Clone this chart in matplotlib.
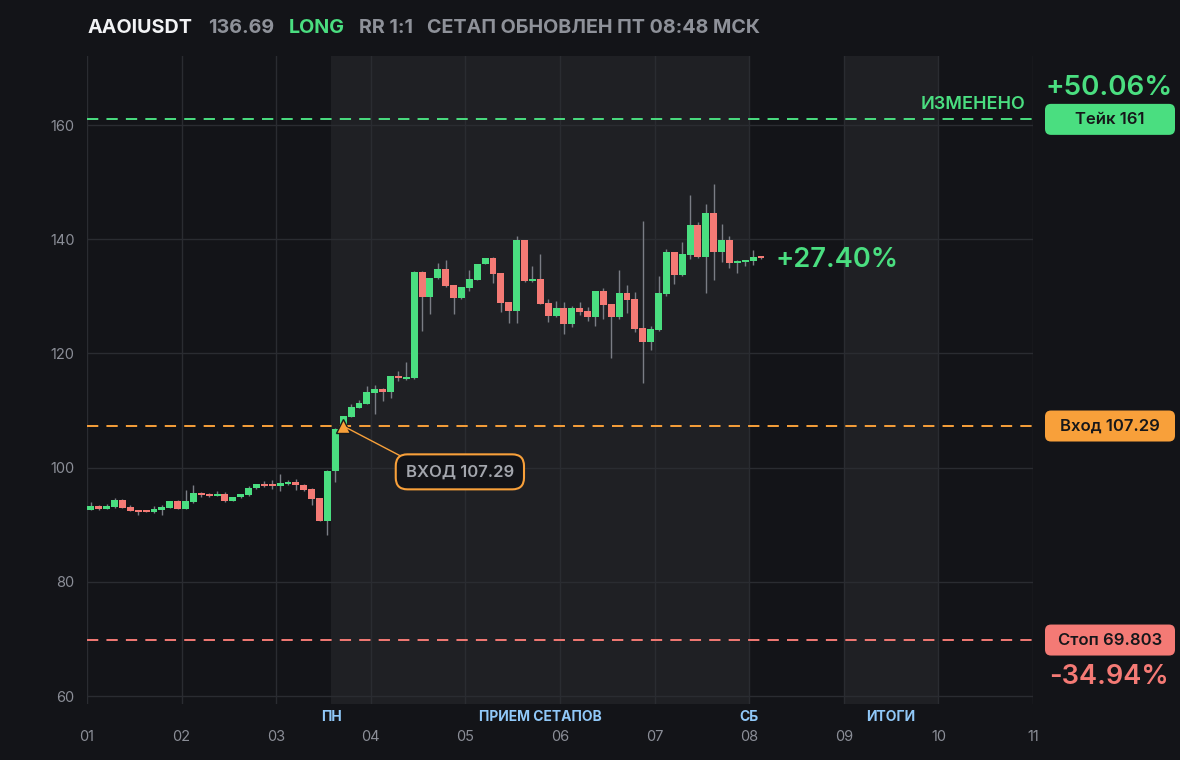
import numpy as np
import pandas as pd
import matplotlib
matplotlib.use("Agg")
import matplotlib.pyplot as plt
import matplotlib.dates as mdates
import matplotlib.transforms as mtransforms
from matplotlib.patches import FancyBboxPatch

plt.rcParams['font.family'] = ['Inter', 'DejaVu Sans']

# ---------------- data ----------------
symbol = "AAOIUSDT"
last_price_txt = "136.69"
side = "LONG"
rr_txt = "RR 1:1"
updated_txt = "СЕТАП ОБНОВЛЕН ПТ 08:48 МСК"

bar_start = "2025-11-01 00:00"   # 2-hour candles
opens = [92.63, 93.27, 92.80, 93.15, 94.33, 93.10, 92.57, 92.50, 92.28, 92.63,
         92.98, 94.15, 92.80, 94.03, 95.55, 95.45, 95.08, 95.38, 94.20, 94.85,
         95.25, 96.43, 97.13, 97.13, 96.78, 97.13, 97.48, 97.00, 96.25, 94.68,
         90.65, 99.40, 107.16, 108.91, 110.49, 111.19, 113.12, 113.77, 113.29, 116.04,
         115.52, 115.69, 134.26, 129.88, 133.20, 134.78, 131.98, 129.70, 131.45, 132.85,
         135.66, 136.71, 134.08, 128.99, 127.43, 139.86, 132.68, 133.03, 128.83, 126.55,
         127.95, 125.15, 127.95, 127.43, 126.37, 130.93, 128.65, 126.37, 130.58, 129.53,
         124.45, 122.00, 124.10, 130.40, 137.76, 133.73, 137.23, 142.49, 136.88, 144.59,
         137.76, 139.86, 135.83, 136.00, 136.18, 136.88]
highs = [93.98, 93.45, 93.63, 94.68, 94.50, 93.45, 92.60, 92.55, 93.27, 93.45,
         94.20, 94.33, 96.08, 96.95, 95.78, 95.60, 95.90, 95.73, 94.90, 95.40,
         96.78, 97.20, 97.65, 97.83, 98.88, 97.83, 98.00, 97.20, 96.43, 94.70,
         99.50, 106.90, 109.10, 111.14, 111.84, 114.29, 114.47, 113.90, 116.10, 117.00,
         118.49, 134.40, 134.40, 133.30, 135.84, 136.36, 132.00, 131.70, 134.60, 135.70,
         136.80, 136.90, 134.10, 129.00, 140.56, 139.90, 135.31, 137.43, 129.53, 129.18,
         129.00, 128.30, 129.00, 128.12, 131.00, 131.45, 128.70, 134.61, 131.98, 130.75,
         143.19, 124.80, 133.55, 138.28, 137.80, 139.51, 147.74, 143.01, 146.16, 149.67,
         142.66, 140.56, 136.30, 136.40, 138.11, 136.90]
lows = [92.50, 92.63, 92.75, 92.98, 92.95, 92.40, 91.75, 92.20, 92.10, 91.75,
        92.90, 92.75, 92.75, 93.85, 94.90, 94.85, 95.00, 94.03, 94.15, 94.70,
        95.08, 96.30, 96.66, 96.25, 95.90, 96.90, 96.10, 95.90, 93.45, 90.60,
        88.20, 97.53, 106.30, 108.80, 110.40, 111.10, 109.44, 111.72, 112.19, 115.17,
        115.40, 115.60, 123.92, 126.90, 133.10, 131.70, 126.90, 129.60, 130.90, 132.80,
        135.60, 132.30, 127.25, 125.32, 125.32, 132.60, 132.60, 128.60, 125.50, 126.40,
        123.40, 124.62, 126.72, 125.67, 124.80, 126.02, 119.19, 126.00, 127.07, 123.75,
        114.82, 120.60, 123.90, 130.05, 132.15, 133.60, 136.53, 136.80, 130.58, 132.85,
        136.00, 134.96, 134.08, 135.31, 135.48, 136.60]
closes = [93.27, 92.80, 93.27, 94.33, 92.98, 92.45, 92.28, 92.28, 92.75, 93.10,
          94.15, 92.80, 94.15, 95.55, 95.25, 95.08, 95.38, 94.20, 94.85, 95.38,
          96.43, 97.13, 96.78, 96.78, 97.30, 97.48, 96.95, 96.08, 94.50, 90.65,
          99.40, 106.76, 109.04, 110.61, 111.31, 113.24, 113.77, 113.29, 116.04, 115.69,
          115.87, 134.26, 129.88, 133.20, 134.78, 131.80, 129.70, 131.63, 133.02, 135.66,
          136.71, 133.90, 128.82, 127.43, 139.86, 132.68, 133.03, 128.65, 126.55, 127.95,
          125.15, 127.95, 127.25, 126.37, 130.93, 128.48, 126.37, 130.58, 129.35, 124.27,
          122.00, 124.27, 130.58, 137.76, 133.73, 137.41, 142.49, 136.88, 144.59, 137.76,
          139.86, 135.83, 136.18, 136.36, 136.88, 136.69]

take_price = 161
entry_price = 107.29
stop_price = 69.803
entry_time = "2025-11-03 17:00"
take_label = "Тейк 161"
entry_label = "Вход 107.29"
stop_label = "Стоп 69.803"
entry_note = "ВХОД 107.29"
take_pct = "+50.06%"
stop_pct = "-34.94%"
current_pct = "+27.40%"
changed_txt = "ИЗМЕНЕНО"

bands = [("2025-11-03 14:00", "2025-11-08 00:00"), ("2025-11-09 00:00", "2025-11-10 00:00")]
band_marks = [("2025-11-03 14:00", "ПН"), ("2025-11-05 19:00", "ПРИЕМ СЕТАПОВ"),
              ("2025-11-08 00:00", "СБ"), ("2025-11-09 12:00", "ИТОГИ")]
day_ticks = pd.date_range("2025-11-01", "2025-11-11", freq="D")
y_ticks = [60, 80, 100, 120, 140, 160]

# ---------------- style ----------------
BG = "#131418"
BAND = "#1f2024"
GRID = "#2a2c31"
GREEN = "#4ade80"
RED = "#f47a75"
ORANGE = "#f8a03a"
WICK = "#7a7d85"
TICK = "#8b8e97"
BLUE = "#90c8f8"
GRAYTXT = "#8e9199"

W, H = 1180, 760
fig = plt.figure(figsize=(W / 100, H / 100), dpi=100, facecolor=BG)
ax = fig.add_axes([87 / W, 56 / H, 946 / W, 648 / H])
ax.set_facecolor(BG)

t = pd.date_range(bar_start, periods=len(opens), freq="2h")
xc = mdates.date2num(t) + 1 / 24
bw = 2 / 24 * 0.88

o = np.array(opens); c = np.array(closes)
cols = [GREEN if cc >= oo else RED for oo, cc in zip(o, c)]
bottoms = np.minimum(o, c)
heights = np.maximum(np.abs(c - o), 0.3)

ax.set_xlim(mdates.date2num(day_ticks[0]), mdates.date2num(day_ticks[-1]))
ax.set_ylim(58.6, 172.1)

for a, b in bands:
    ax.axvspan(mdates.date2num(pd.Timestamp(a)), mdates.date2num(pd.Timestamp(b)),
               color=BAND, lw=0, zorder=0)

ax.set_xticks(mdates.date2num(day_ticks))
ax.set_xticklabels([d.strftime("%d") for d in day_ticks])
ax.set_yticks(y_ticks)
ax.grid(True, color=GRID, lw=1, zorder=1)
ax.set_axisbelow(True)
for s in ax.spines.values():
    s.set_visible(False)
ax.tick_params(length=0, colors=TICK, labelsize=10.5)
ax.tick_params(axis='x', pad=19)
ax.tick_params(axis='y', pad=9)

ax.vlines(xc, lows, highs, color=WICK, lw=1, zorder=3)
ax.bar(xc, heights, bw, bottom=bottoms, color=cols, lw=0, zorder=4)

# level lines
ls = (0, (5.8, 4.2))
ax.axhline(take_price, color=GREEN, lw=1.4, ls=ls, zorder=2)
ax.axhline(entry_price, color=ORANGE, lw=1.4, ls=ls, zorder=2)
ax.axhline(stop_price, color=RED, lw=1.4, ls=ls, zorder=2)

# entry marker & note
ex = mdates.date2num(pd.Timestamp(entry_time))
ax.plot([ex], [entry_price], marker='^', ms=10, mfc=ORANGE, mec="#1a1a1a", mew=1, zorder=7)
ax.annotate(entry_note, xy=(ex, entry_price), xytext=(84, -33), textcoords='offset points',
            ha='center', va='center', fontsize=12, color="#a3a6ad", fontweight='semibold',
            zorder=8,
            bbox=dict(boxstyle="round,pad=0.6,rounding_size=0.7", fc=BG, ec=ORANGE, lw=1.5),
            arrowprops=dict(arrowstyle='-', color=ORANGE, lw=1, shrinkA=0, shrinkB=0,
                            relpos=(0.1, 1.0)))

# current pct
ax.annotate(current_pct, xy=(xc[-1], closes[-1]), xytext=(10.5, -1.5), textcoords='offset points',
            ha='left', va='center', fontsize=19.6, color=GREEN, fontweight='semibold',
            annotation_clip=False)

# band labels
btr = mtransforms.blended_transform_factory(ax.transData, ax.transAxes)
for when, lab in band_marks:
    ax.text(mdates.date2num(pd.Timestamp(when)), -13 / 648, lab, transform=btr,
            ha='center', va='center', fontsize=10, color=BLUE, fontweight='bold')

# right side boxes
ident = mtransforms.IdentityTransform()
def ypx(p):
    return ax.transData.transform((ax.get_xlim()[0], p))[1]

for price, lab, fc in [(take_price, take_label, GREEN), (entry_price, entry_label, ORANGE),
                       (stop_price, stop_label, RED)]:
    yc = ypx(price)
    fig.add_artist(FancyBboxPatch((1045, yc - 15.5), 130, 31,
                                  boxstyle="round,pad=0,rounding_size=6",
                                  transform=ident, fc=fc, ec='none'))
    fig.text(1110, yc, lab, transform=ident, ha='center', va='center',
             fontsize=12, color="#16171a", fontweight='semibold')

yt = ypx(take_price)
fig.text(1109, yt + 31, take_pct, transform=ident, ha='center', va='center',
         fontsize=20, color=GREEN, fontweight='semibold')
fig.text(1025, yt + 15, changed_txt, transform=ident, ha='right', va='center',
         fontsize=13, color=GREEN, fontweight='semibold')
ys = ypx(stop_price)
fig.text(1109, ys - 37, stop_pct, transform=ident, ha='center', va='center',
         fontsize=19.6, color=RED, fontweight='semibold')

# header
hy = H - 28
t0 = fig.text(88, hy, symbol, transform=ident, ha='left', va='center',
              fontsize=14.2, color="#f2f3f5", fontweight='bold')
prev = t0
for txt, col in [(last_price_txt, GRAYTXT), (side, GREEN), (rr_txt, GRAYTXT),
                 (updated_txt, GRAYTXT)]:
    prev = ax.annotate(txt, xy=(1, 0.5), xycoords=prev, xytext=(10.5, 0),
                       textcoords='offset points', ha='left', va='center',
                       fontsize=14.2, color=col, fontweight='bold',
                       annotation_clip=False)

fig.savefig("out.png", dpi=100, facecolor=BG)
